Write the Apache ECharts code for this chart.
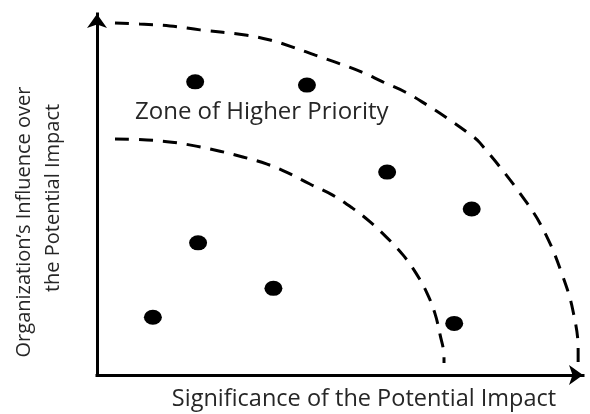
<!DOCTYPE html>
<html>
<head>
<meta charset="utf-8">
<script src="https://cdn.jsdelivr.net/npm/echarts@6/dist/echarts.min.js"></script>
<style>
html,body{margin:0;padding:0;background:#fff;}
#c{width:590px;height:414px;}
</style>
</head>
<body>
<div id="c"></div>
<script>
// Issue points (significance x, influence y), 0-100 scale
const pointX = [20.2, 43.2, 59.7, 77.1, 20.8, 36.3, 11.5, 73.5];
const pointY = [81.2, 80.3, 56.2, 46.0, 36.6, 24.0, 16.0, 14.3];

// Outer dashed boundary (read along the arc)
const outerX = [3.7, 8.8, 15.0, 21.2, 30.5, 35.6, 40.1, 44.9, 49.6, 54.5, 58.8, 63.4, 67.9, 72.0, 76.1, 78.8, 88.5, 92.6, 95.9, 97.9, 99.0, 99.0];
const outerY = [97.5, 97.2, 96.7, 95.6, 94.2, 92.8, 90.9, 88.6, 86.4, 83.9, 81.2, 78.4, 74.8, 71.2, 67.3, 64.3, 47.6, 38.2, 27.1, 18.0, 6.9, 3.6];

// Inner dashed boundary
const innerX = [3.7, 10.3, 15.4, 20.4, 25.3, 30.0, 35.0, 39.3, 43.8, 48.4, 52.5, 56.2, 59.7, 63.0, 65.6, 67.9, 69.5, 70.6, 71.4, 71.4];
const innerY = [65.4, 65.1, 64.5, 63.4, 62.0, 60.4, 58.4, 56.0, 52.9, 49.9, 46.3, 42.4, 38.0, 33.2, 28.3, 22.7, 17.2, 11.1, 5.0, 3.3];

const xTitle = 'Significance of the Potential Impact';
const yTitle1 = 'Organization\u2019s Influence over';
const yTitle2 = 'the Potential Impact';
const zoneLabel = 'Zone of Higher Priority';

const zip = (a, b) => a.map((v, i) => [v, b[i]]);
const FONT = '"Open Sans", "Noto Sans", sans-serif';
const TXT = '#262626';

const chart = echarts.init(document.getElementById('c'), null, {renderer: 'canvas'});
const axisCommon = {
  type: 'value', min: 0, max: 100,
  axisLine: {show: true, symbol: ['none', 'arrow'], symbolSize: [15, 14],
    lineStyle: {color: '#000', width: 3, cap: 'square'}},
  axisTick: {show: false}, axisLabel: {show: false}, splitLine: {show: false}
};
const dash = {color: '#000', width: 3, type: [14, 10], cap: 'butt'};

chart.setOption({
  animation: false,
  backgroundColor: '#fff',
  grid: {left: 97, right: 7, top: 14, bottom: 39, containLabel: false},
  xAxis: Object.assign({}, axisCommon),
  yAxis: Object.assign({}, axisCommon),
  series: [
    {type: 'line', data: zip(outerX, outerY), smooth: 0.4, showSymbol: false,
      lineStyle: dash, silent: true},
    {type: 'line', data: zip(innerX, innerY), smooth: 0.4, showSymbol: false,
      lineStyle: dash, silent: true},
    {type: 'scatter', data: zip(pointX, pointY), symbol: 'circle', symbolSize: [18, 15],
      itemStyle: {color: '#000', opacity: 1}}
  ],
  graphic: [
    {type: 'text', x: 364, y: 399, style: {text: xTitle, fill: TXT,
      font: '23.5px ' + FONT, textAlign: 'center', textVerticalAlign: 'middle'}},
    {type: 'text', x: 135, y: 112, style: {text: zoneLabel, fill: TXT,
      font: '24px ' + FONT, textAlign: 'left', textVerticalAlign: 'middle'}},
    {type: 'text', x: 24, y: 222, rotation: Math.PI / 2, style: {text: yTitle1, fill: TXT,
      font: '20px ' + FONT, textAlign: 'center', textVerticalAlign: 'middle'}},
    {type: 'text', x: 53, y: 198, rotation: Math.PI / 2, style: {text: yTitle2, fill: TXT,
      font: '20px ' + FONT, textAlign: 'center', textVerticalAlign: 'middle'}}
  ]
});
</script>
</body>
</html>
